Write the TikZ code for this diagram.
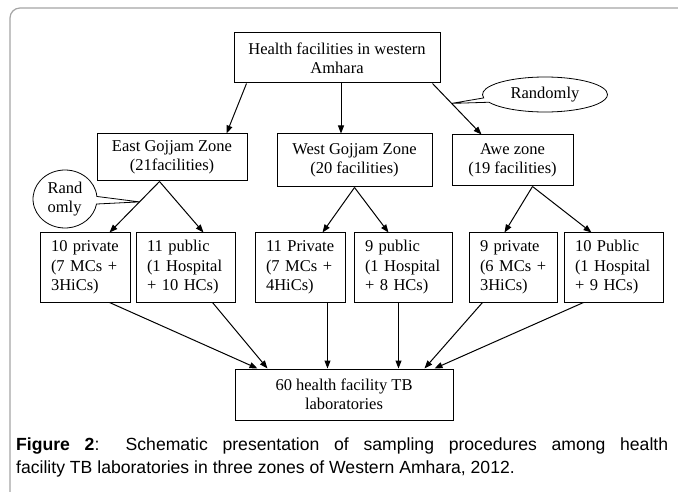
\documentclass[tikz,border=0pt]{standalone}
\usepackage{fontspec}
\setmainfont{Liberation Serif}
\newfontfamily\capfont{Liberation Sans}
\usetikzlibrary{shapes.callouts,arrows.meta}
\definecolor{framegray}{RGB}{165,165,165}
\begin{document}
\begin{tikzpicture}
  [x=1pt,y=-1pt
  ,box/.style={rectangle,draw=black,line width=1pt,inner sep=0pt,align=center,font=\fontsize{16.5}{19}\selectfont}
  ,leaf/.style={rectangle,draw=black,line width=1pt,inner xsep=11pt,inner ysep=0pt,minimum height=69pt,text width=#1,align=left,font=\fontsize{16.5}{19.5}\selectfont}
  ,arr/.style={-{Triangle[length=8pt,width=6pt]},line width=1pt}
  ,note/.style={ellipse callout,draw=black,line width=0.8pt,inner sep=0pt,font=\fontsize{16.5}{19}\selectfont}]
\useasboundingbox (0,0) rectangle (678,492);
\draw [framegray,line width=1.2pt,rounded corners=10pt] (10,492) -- (10,8) -- (678,8);
%
\node at (337,58) (top) [box,minimum width=206pt,minimum height=50pt] {Health facilities in western\\Amhara};
\node at (172,157.5) (east) [box,minimum width=150pt,minimum height=47pt] {East Gojjam Zone\\(21facilities)};
\node at (354.5,160.5) (west) [box,minimum width=155pt,minimum height=53pt] {West Gojjam Zone\\(20 facilities)};
\node at (512.5,160.5) (awe) [box,minimum width=121pt,minimum height=51pt] {Awe zone\\(19 facilities)};
%
\node at (85,267.5) (priv1) [leaf=68pt] {\mbox{10 private}\\\mbox{(7 MCs +}\\3HiCs)};
\node at (185.5,267.5) (pub1) [leaf=77pt] {\mbox{11 public}\\\mbox{(1 Hospital}\\\mbox{+ 10 HCs)}};
\node at (300,267.5) (priv2) [leaf=68pt] {\mbox{11 Private}\\\mbox{(7 MCs +}\\4HiCs)};
\node at (403,267.5) (pub2) [leaf=76pt] {\mbox{9 public}\\\mbox{(1 Hospital}\\\mbox{+ 8 HCs)}};
\node at (513,267.5) (priv3) [leaf=66pt] {\mbox{9 private}\\\mbox{(6 MCs +}\\3HiCs)};
\node at (613.5,267.5) (pub3) [leaf=77pt] {\mbox{10 Public}\\\mbox{(1 Hospital}\\\mbox{+ 9 HCs)}};
%
\node at (344,394.5) (labs) [box,minimum width=218pt,minimum height=51pt] {60 health facility TB\\laboratories};
%
\draw [arr] ([xshift=13pt]top.south west) -- ([xshift=130pt]east.north west);
\draw [arr] ([xshift=4pt]top.south) -- ([xshift=4pt]top.south |- west.north);
\draw [arr] ([xshift=-8pt]top.south east) -- ([xshift=30pt]awe.north west) coordinate[pos=0.39] (rtip);
%
\draw [arr] ([xshift=63pt]east.south west) -- ([xshift=70pt]priv1.north west) coordinate[pos=0.4] (ltip);
\draw [arr] ([xshift=63pt]east.south west) -- ([xshift=68pt]pub1.north west);
\draw [arr] (west.south) -- ([xshift=68pt]priv2.north west);
\draw [arr] (west.south) -- ([xshift=35pt]pub2.north west);
\draw [arr] ([xshift=81pt]awe.south west) -- ([xshift=36pt]priv3.north west);
\draw [arr] ([xshift=81pt]awe.south west) -- ([xshift=28pt]pub3.north west);
%
\draw [arr] ([xshift=70pt]priv1.south west) -- ([xshift=23pt]labs.north west);
\draw [arr] ([xshift=77pt]pub1.south west) -- ([xshift=33pt]labs.north west);
\draw [arr] ([xshift=73pt]priv2.south west) -- ([xshift=73pt]priv2.south west |- labs.north);
\draw [arr] ([xshift=45pt]pub2.south west) -- ([xshift=45pt]pub2.south west |- labs.north);
\draw [arr] ([xshift=14pt]priv3.south west) -- ([xshift=190pt]labs.north west);
\draw [arr] ([xshift=20pt]pub3.south west) -- ([xshift=200pt]labs.north west);
%
\node at (545,94.5) (rnote) [note,minimum width=125pt,minimum height=35pt,callout absolute pointer={(rtip)}] {Randomly};
\node at (65,199) (lnote) [note,minimum width=64pt,minimum height=58pt,align=left,callout absolute pointer={(ltip)}] {Rand\\omly};
%
\node at (16,438) (cap) [anchor=north west,text width=652pt,align=justify,inner sep=0pt,font=\capfont\fontsize{17.6}{23}\selectfont] {\textbf{Figure 2}: Schematic presentation of sampling procedures among health\linebreak facility TB laboratories in three zones of Western Amhara, 2012.};
\end{tikzpicture}
\end{document}
